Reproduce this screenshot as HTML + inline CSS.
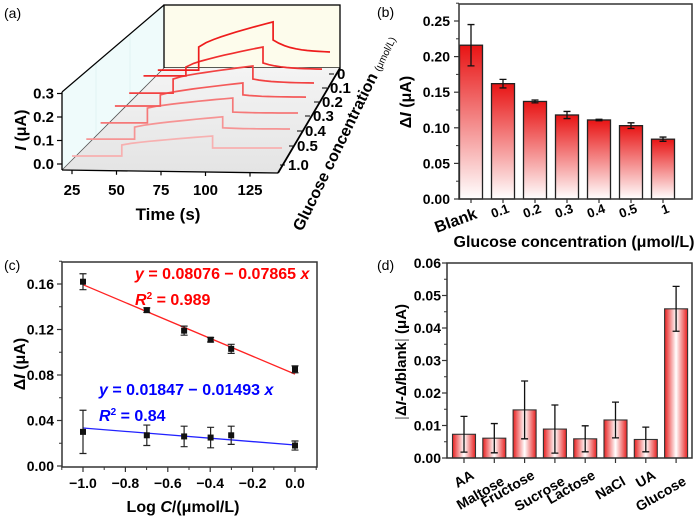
<!DOCTYPE html>
<html><head><meta charset="utf-8"><style>
html,body{margin:0;padding:0;background:#fff}
svg{display:block;font-family:"Liberation Sans",Arial,sans-serif}
.b{font-weight:bold}
</style></head><body>
<svg id="fig" width="700" height="521" viewBox="0 0 700 521" xmlns="http://www.w3.org/2000/svg">
<defs>
<linearGradient id="gv" x1="0" y1="0" x2="0" y2="1"><stop offset="0" stop-color="#e81414"/><stop offset="1" stop-color="#ffffff"/></linearGradient>
<linearGradient id="gh" x1="0" y1="0" x2="1" y2="0"><stop offset="0" stop-color="#e82020"/><stop offset="0.5" stop-color="#ffffff"/><stop offset="1" stop-color="#e82020"/></linearGradient>
<linearGradient id="gfloor" x1="0" y1="0" x2="0" y2="1"><stop offset="0" stop-color="#f4f4f4"/><stop offset="1" stop-color="#e4e4e4"/></linearGradient>
</defs>
<g id="pa">
<text x="4" y="18" font-size="14">(a)</text>
<polygon points="62,92 164,5 164,68 62,170" fill="#effbfb" stroke="none"/>
<g stroke="#d8eeee" stroke-width="0.6">
<line x1="96" y1="63" x2="96" y2="136"/><line x1="130" y1="34" x2="130" y2="102"/>
</g>
<rect x="164" y="5" width="176" height="63" fill="#fdfcec" stroke="#000" stroke-width="1.3"/>
<polygon points="62,170 164,68 340,68 278,173" fill="url(#gfloor)"/>
<line x1="62" y1="92" x2="164" y2="5" stroke="#000" stroke-width="1.2"/>
<line x1="62" y1="170" x2="164" y2="68" stroke="#555" stroke-width="0.8"/>
<line x1="62" y1="92" x2="62" y2="170" stroke="#000" stroke-width="1.3"/>
<line x1="62" y1="170" x2="278" y2="173" stroke="#000" stroke-width="1.3"/>
<line x1="278" y1="173" x2="340" y2="68" stroke="#000" stroke-width="1.8"/>
<g id="a-ticks"></g>
<g id="a-traces"></g>
<text x="168" y="220" font-size="17" class="b" text-anchor="middle">Time (s)</text>
<text transform="translate(26,130) rotate(-90)" font-size="16" class="b" text-anchor="middle"><tspan font-style="italic">I</tspan> (μA)</text>
<text transform="translate(302,232) rotate(-64)" font-size="16" class="b">Glucose concentration <tspan font-size="10" font-weight="normal">(μmol/L)</tspan></text>
</g>
<g id="pb">
<text x="377" y="17" font-size="14">(b)</text>
<g id="b-bars"></g>
<rect x="459" y="4" width="233" height="195" fill="none" stroke="#333" stroke-width="1.5"/>
<g id="b-ticks"></g>
<text transform="translate(411,102) rotate(-90)" font-size="16" class="b" text-anchor="middle">Δ<tspan font-style="italic">I</tspan> (μA)</text>
<text x="574" y="247" font-size="16" class="b" text-anchor="middle">Glucose concentration (μmol/L)</text>
</g>
<g id="pc">
<text x="4" y="270" font-size="14">(c)</text>
<g id="c-plot"></g>
<rect x="62" y="262" width="255" height="205" fill="none" stroke="#333" stroke-width="1.5"/>
<g id="c-ticks"></g>
<text x="135" y="279" font-size="16" class="b" fill="#f00"><tspan font-style="italic">y</tspan> = 0.08076 − 0.07865 <tspan font-style="italic">x</tspan></text>
<text x="135" y="305" font-size="16" class="b" fill="#f00"><tspan font-style="italic">R</tspan><tspan font-size="10" dy="-6">2</tspan><tspan dy="6"> = 0.989</tspan></text>
<text x="99" y="395" font-size="16" class="b" fill="#00f"><tspan font-style="italic">y</tspan> = 0.01847 − 0.01493 <tspan font-style="italic">x</tspan></text>
<text x="99" y="421" font-size="16" class="b" fill="#00f"><tspan font-style="italic">R</tspan><tspan font-size="10" dy="-6">2</tspan><tspan dy="6"> = 0.84</tspan></text>
<text transform="translate(25,364) rotate(-90)" font-size="16" class="b" text-anchor="middle">Δ<tspan font-style="italic">I</tspan> (μA)</text>
<text x="183" y="512" font-size="16" class="b" text-anchor="middle">Log <tspan font-style="italic">C</tspan>/(μmol/L)</text>
</g>
<g id="pd">
<text x="377" y="270" font-size="14">(d)</text>
<g id="d-bars"></g>
<rect x="447" y="263" width="245" height="195" fill="none" stroke="#333" stroke-width="1.5"/>
<g id="d-ticks"></g>
<text transform="translate(406,362) rotate(-90)" font-size="15" class="b" text-anchor="middle"><tspan font-weight="normal" fill="#666">|</tspan>Δ<tspan font-style="italic">I</tspan>-Δ<tspan font-style="italic">I</tspan>blank<tspan font-weight="normal" fill="#666">|</tspan> (μA)</text>
</g>
</svg>
<script>
// ---- Panel (a) data ----
const aConc = ["1.0","0.5","0.4","0.3","0.2","0.1","0"];
const aBase = [0.034,0.040,0.043,0.049,0.038,0.045,0.004];
const aStep = [0.081,0.091,0.106,0.096,0.098,0.083,0.102];
const aPeak = [0.119,0.135,0.149,0.147,0.153,0.168,0.209];
const aDrop = [0.068,0.088,0.089,0.096,0.098,0.100,0.132];
const aEnd  = [0.068,0.083,0.085,0.087,0.081,0.074,0.081];
const aTimeTicks = [25,50,75,100,125];
const aCurTicks = [0.0,0.1,0.2,0.3];
// ---- Panel (b) data ----
const bCats = ["Blank","0.1","0.2","0.3","0.4","0.5","1"];
const bVals = [0.216,0.162,0.137,0.118,0.111,0.103,0.084];
const bErrs = [0.029,0.006,0.002,0.005,0.001,0.004,0.003];
const bTicks = [0.00,0.05,0.10,0.15,0.20,0.25];
// ---- Panel (c) data ----
const cX = [-1.0,-0.699,-0.523,-0.398,-0.301,0.0];
const cRed = [0.162,0.137,0.119,0.111,0.103,0.085];
const cRedErr = [0.007,0.002,0.004,0.002,0.004,0.003];
const cBlue = [0.030,0.027,0.026,0.025,0.027,0.018];
const cBlueErr = [0.019,0.009,0.009,0.009,0.008,0.004];
const cRedFit = [0.08076,-0.07865];
const cBlueFit = [0.01847,-0.01493];
const cXTicks = [-1.0,-0.8,-0.6,-0.4,-0.2,0.0];
const cYTicks = [0.00,0.04,0.08,0.12,0.16];
// ---- Panel (d) data ----
const dCats = ["AA","Maltose","Fructose","Sucrose","Lactose","NaCl","UA","Glucose"];
const dVals = [0.0073,0.0061,0.0148,0.0089,0.0059,0.0117,0.0057,0.0459];
const dErrs = [0.0055,0.0045,0.0089,0.0074,0.0040,0.0055,0.0038,0.0069];
const dTicks = [0.00,0.01,0.02,0.03,0.04,0.05,0.06];

const NS="http://www.w3.org/2000/svg";
function mk(parent,tag,attrs,text){const e=document.createElementNS(NS,tag);for(const k in attrs)e.setAttribute(k,attrs[k]);if(text!==undefined)e.textContent=text;parent.appendChild(e);return e;}

// ---- Panel (a) ----
(function(){
 const tr=document.getElementById('a-traces'), tk=document.getElementById('a-ticks');
 const px=(t,k)=>72+(t-25)*1.78*(1-0.03*k)+k*14.3;
 const py=(I,k)=>164-15.5*k-I*235;
 const cols=["#f7b0b0","#f69494","#f57878","#f45a5a","#f24242","#f02e2e","#ee1c1c"];
 const tS=25,tOn=53,tOff=104,tE=143;
 for(let k=0;k<aConc.length;k++){
  const pts=[];
  pts.push([tS,aBase[k]]);pts.push([tOn,aBase[k]]);
  for(let j=0;j<=10;j++){const f=j/10;pts.push([tOn+(tOff-tOn)*f,aStep[k]+(aPeak[k]-aStep[k])*Math.pow(f,0.75)]);}
  for(let j=0;j<=10;j++){const f=j/10;const t=tOff+(tE-tOff)*f;pts.push([t,aDrop[k]+(aEnd[k]-aDrop[k])*(1-Math.exp(-3*f))/(1-Math.exp(-3))]);}
  const d=pts.map((p,i)=>(i?'L':'M')+px(p[0],k).toFixed(1)+','+py(p[1],k).toFixed(1)).join(' ');
  const p=mk(tr,'path',{d:d,fill:'none',stroke:cols[k],'stroke-width':1.7});
  
  
 }
 const zl=[[288,170],[297,151],[305,136],[313,121],[322,107],[330,93],[337,79]];
 for(let k=0;k<aConc.length;k++){
  const t=mk(tk,'text',{x:zl[k][0],y:zl[k][1],'font-size':15,'font-weight':'bold'},aConc[k]);
  
  
  mk(tk,'line',{x1:zl[k][0]-8,y1:zl[k][1]-5,x2:zl[k][0]-3,y2:zl[k][1]-5,stroke:'#000','stroke-width':1});
 }
 aTimeTicks.forEach(v=>{
  const x=72+(v-25)*1.78;const y=170+(x-62)*3/216;
  mk(tk,'line',{x1:x,y1:y,x2:x,y2:y+4,stroke:'#000','stroke-width':1.2});
  const t=mk(tk,'text',{x:x,y:195,'font-size':15,'font-weight':'bold','text-anchor':'middle'},String(v));
  
  
 });
 aCurTicks.forEach(v=>{
  const y=164-v*235;
  mk(tk,'line',{x1:57,y1:y,x2:62,y2:y,stroke:'#000','stroke-width':1.2});
  const t=mk(tk,'text',{x:54,y:y+5,'font-size':15,'font-weight':'bold','text-anchor':'end'},v.toFixed(1));
  
  
 });
})();

// ---- Panel (b) ----
(function(){
 const g=document.getElementById('b-bars'),tk=document.getElementById('b-ticks');
 const y=v=>199-v*712, x=i=>471+32*i;
 bVals.forEach((v,i)=>{
  const r=mk(g,'rect',{x:x(i)-11.5,y:y(v),width:23,height:199-y(v),fill:'url(#gv)',stroke:'#222','stroke-width':1.3});
  
  
  const e=bErrs[i];
  mk(g,'path',{d:`M${x(i)},${y(v+e)}V${y(v-e)}M${x(i)-3.5},${y(v+e)}h7M${x(i)-3.5},${y(v-e)}h7`,stroke:'#111','stroke-width':1.3,fill:'none'});
  const t=mk(tk,'text',{transform:`translate(${x(i)+7},${i?212:218}) rotate(-20)`,'font-size':i?13:16,'font-weight':'bold','text-anchor':'end'},bCats[i]);
  
  
  mk(tk,'line',{x1:x(i),y1:199,x2:x(i),y2:203,stroke:'#333','stroke-width':1.2});
 });
 bTicks.forEach(v=>{
  mk(tk,'line',{x1:454,y1:y(v),x2:459,y2:y(v),stroke:'#333','stroke-width':1.2});
  mk(tk,'line',{x1:456,y1:y(v+0.025),x2:459,y2:y(v+0.025),stroke:'#333','stroke-width':1});
  const t=mk(tk,'text',{x:450,y:y(v)+5,'font-size':14,'font-weight':'bold','text-anchor':'end'},v.toFixed(2));
  
  
 });
})();

// ---- Panel (c) ----
(function(){
 const g=document.getElementById('c-plot'),tk=document.getElementById('c-ticks');
 const x=v=>295+v*212, y=v=>466-v*1137.5;
 [[cRedFit,'#f22'],[cBlueFit,'#22f']].forEach(([f,c],j)=>{
  const l=mk(g,'line',{x1:x(-1),y1:y(f[0]-f[1]),x2:x(0),y2:y(f[0]),stroke:c,'stroke-width':1.3});
  
  
 });
 [[cRed,cRedErr,'red'],[cBlue,cBlueErr,'blue']].forEach(([vals,errs,nm])=>{
  vals.forEach((v,i)=>{
   const X=x(cX[i]),e=errs[i];
   mk(g,'path',{d:`M${X},${y(v+e)}V${y(v-e)}M${X-3.5},${y(v+e)}h7M${X-3.5},${y(v-e)}h7`,stroke:'#222','stroke-width':1.2,fill:'none'});
   const r=mk(g,'rect',{x:X-3,y:y(v)-3,width:6,height:6,fill:'#111'});
   
   
  });
 });
 cXTicks.forEach(v=>{
  mk(tk,'line',{x1:x(v),y1:467,x2:x(v),y2:472,stroke:'#333','stroke-width':1.2});
  mk(tk,'line',{x1:x(v+0.1),y1:467,x2:x(v+0.1),y2:470,stroke:'#333','stroke-width':1});
  const t=mk(tk,'text',{x:x(v),y:488,'font-size':14,'font-weight':'bold','text-anchor':'middle'},(v<0?'−':'')+Math.abs(v).toFixed(1));
  
  
 });
 mk(tk,'line',{x1:x(-1.1),y1:467,x2:x(-1.1),y2:470,stroke:'#333','stroke-width':1});
 cYTicks.forEach(v=>{
  mk(tk,'line',{x1:57,y1:y(v),x2:62,y2:y(v),stroke:'#333','stroke-width':1.2});
  mk(tk,'line',{x1:59,y1:y(v+0.02),x2:62,y2:y(v+0.02),stroke:'#333','stroke-width':1});
  const t=mk(tk,'text',{x:54,y:y(v)+5,'font-size':14,'font-weight':'bold','text-anchor':'end'},v.toFixed(2));
  
  
 });
})();

// ---- Panel (d) ----
(function(){
 const g=document.getElementById('d-bars'),tk=document.getElementById('d-ticks');
 const y=v=>458-v*3250, x=i=>464+30.3*i;
 dVals.forEach((v,i)=>{
  const r=mk(g,'rect',{x:x(i)-11.5,y:y(v),width:23,height:458-y(v),fill:'url(#gh)',stroke:'#333','stroke-width':1.1});
  
  
  const e=dErrs[i];
  mk(g,'path',{d:`M${x(i)},${y(v+e)}V${y(v-e)}M${x(i)-3.5},${y(v+e)}h7M${x(i)-3.5},${y(v-e)}h7`,stroke:'#111','stroke-width':1.3,fill:'none'});
  mk(tk,'line',{x1:x(i),y1:458,x2:x(i),y2:463,stroke:'#333','stroke-width':1.2});
  const t=mk(tk,'text',{transform:`translate(${x(i)+11},${478+(i%2?6:0)}) rotate(-30)`,'font-size':14,'font-weight':'bold','text-anchor':'end'},dCats[i]);
  
  
 });
 dTicks.forEach(v=>{
  mk(tk,'line',{x1:442,y1:y(v),x2:447,y2:y(v),stroke:'#333','stroke-width':1.2});
  if(v<0.06)mk(tk,'line',{x1:444,y1:y(v+0.005),x2:447,y2:y(v+0.005),stroke:'#333','stroke-width':1});
  const t=mk(tk,'text',{x:441,y:y(v)+5,'font-size':14,'font-weight':'bold','text-anchor':'end'},v.toFixed(2));
  
  
 });
})();
</script>
</body></html>
